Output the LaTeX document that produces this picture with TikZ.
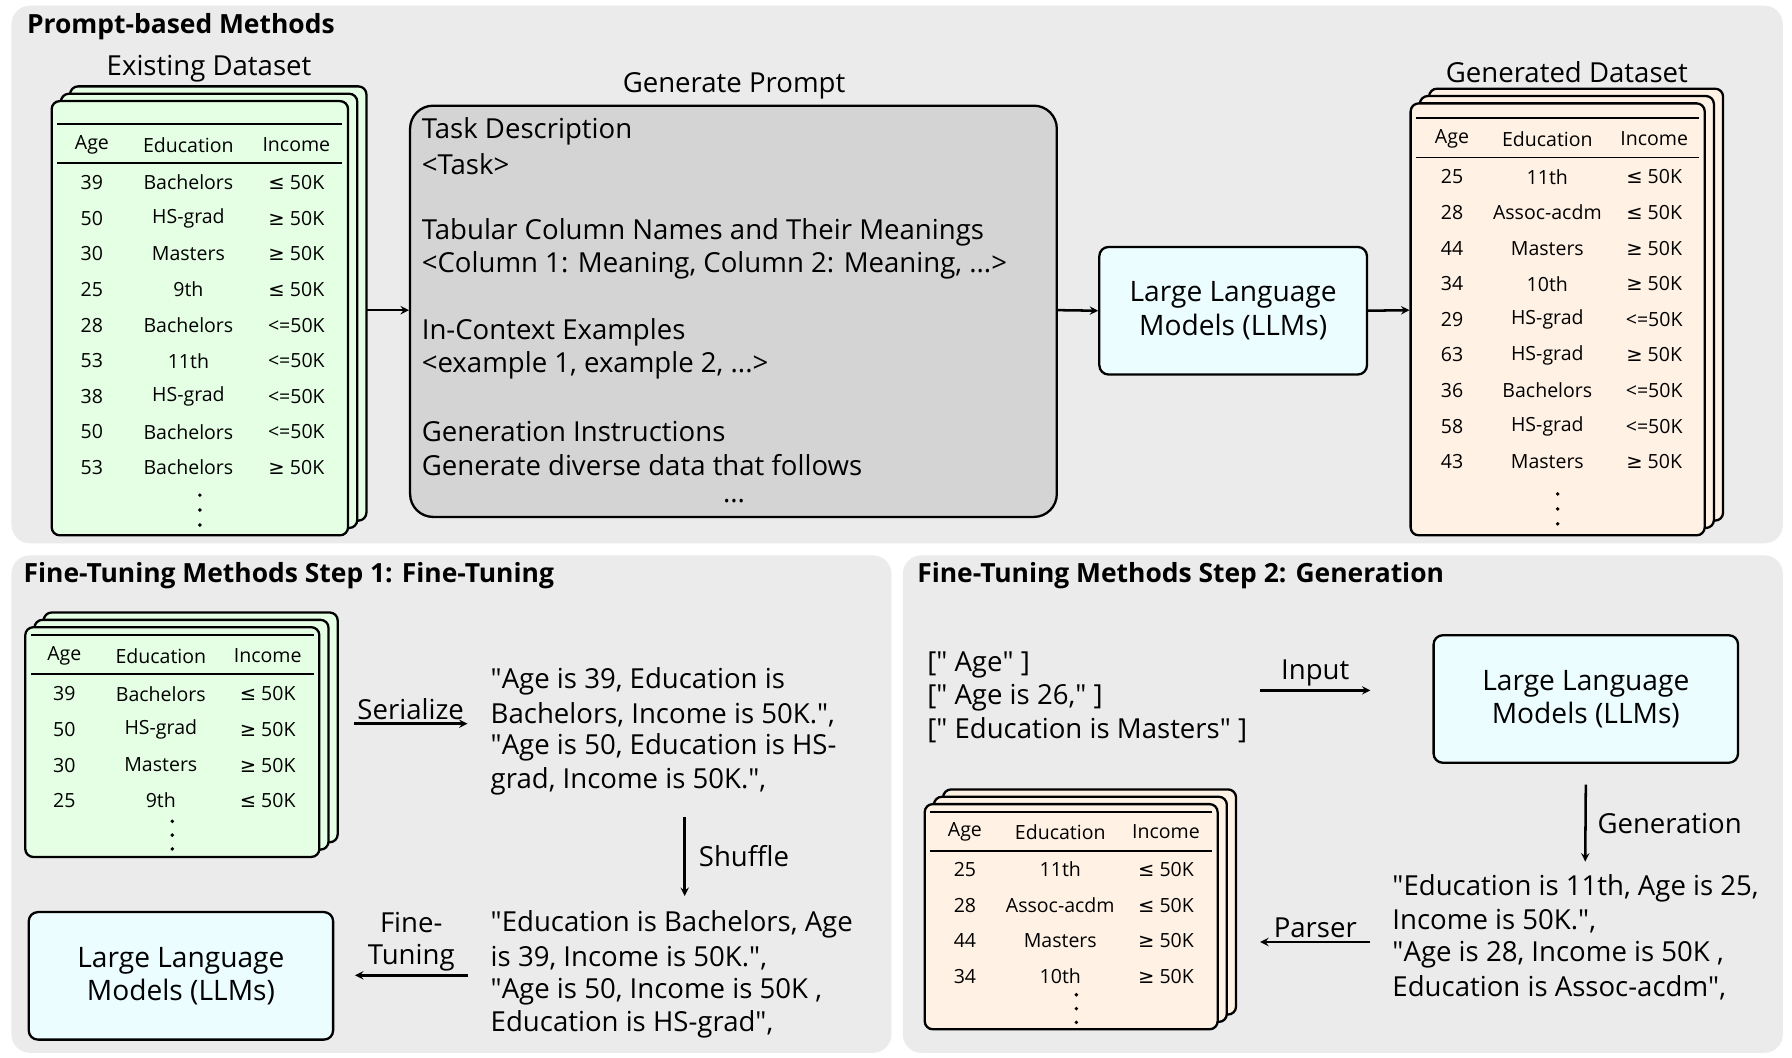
\documentclass[tikz,border=0pt]{standalone}
\usepackage{fontspec}
\setmainfont{Open Sans}
\newfontfamily\symf{DejaVu Sans}
\newfontfamily\qf{Open Sans}
\newcommand\LEs{{\symf ≤}}
\newcommand\GEs{{\symf ≥}}
\newcommand\dq{{\qf"}}
\begin{document}
\begin{tikzpicture}[x=1pt,y=-1pt,
  panel/.style={fill=black!8,draw=none,rounded corners=16pt},
  ttl/.style={anchor=west,font=\fontsize{23}{28}\selectfont\bfseries},
  tab/.style={draw=black,line width=2pt,rounded corners=7pt},
  tt/.style={font=\fontsize{17}{20}\selectfont},
  txt/.style={anchor=west,font=\fontsize{24}{28}\selectfont,inner sep=0},
  llm/.style={draw=black,line width=2pt,fill=blue!10!cyan!8,rounded corners=8pt,align=center,font=\fontsize{24.5}{29}\selectfont,inner sep=0},
  arr/.style={->,line width=2.2pt,>=stealth},
  lbl/.style={font=\fontsize{24}{28}\selectfont,align=center}]
\newcommand\stackt[6]{%
  \foreach \o in {16,8}{\draw[tab,fill=#6] (#2+\o,#3-\o*0.8) rectangle (#4+\o,#5-\o*0.8);}
  \node[tab,fill=#6,minimum width={(#4-#2)*1pt},minimum height={(#5-#3)*1pt},inner sep=0] (#1) at ({(#2+#4)/2},{(#3+#5)/2}) {};}
\useasboundingbox (0,0) rectangle (1560,921);
\fill[white] (0,0) rectangle (1560,921);
\node[panel,minimum width=1542pt,minimum height=468pt] (p1) at (781,239) {};
\node[panel,minimum width=766pt,minimum height=433pt] (p2) at (393,700) {};
\node[panel,minimum width=766pt,minimum height=433pt] (p3) at (1169,700) {};
\node[ttl] (t1) at (20,23) {Prompt-based Methods};
\node[ttl] (t2) at (17,501) {Fine-Tuning Methods Step 1: Fine-Tuning};
\node[ttl] (t3) at (795,501) {Fine-Tuning Methods Step 2: Generation};
% existing dataset
\stackt{ex}{45}{88}{303}{466}{green!10}
\node[lbl] (exl) at (182,60) {Existing Dataset};
\draw[line width=1.5pt] (50,108)--(298,108) (50,142)--(298,142);
\foreach \a/\b/\c [count=\i from -1] in {Age/Education/Income,39/Bachelors/\LEs{} 50K,50/HS-grad/\GEs{} 50K,30/Masters/\GEs{} 50K,25/9th/\LEs{} 50K,28/Bachelors/<=50K,53/11th/<=50K,38/HS-grad/<=50K,50/Bachelors/<=50K,53/Bachelors/\GEs{} 50K}{
  \node[tt] at (80,{159+31*\i-(\i<0?2:0)}) {\a};\node[tt] at (164,{159+31*\i-(\i<0?2:0)}) {\b};\node[tt] at (258,{159+31*\i-(\i<0?2:0)}) {\c};}
\foreach \y in {431,444,457}{\fill (174,\y) circle (1.7pt);}
% generated dataset
\stackt{gen}{1228}{90}{1484}{466}{orange!10}
\node[lbl] (genl) at (1364,63) {Generated Dataset};
\draw[line width=1.5pt] (1233,103)--(1479,103) (1233,137)--(1479,137);
\foreach \a/\b/\c [count=\i from -1] in {Age/Education/Income,25/11th/\LEs{} 50K,28/Assoc-acdm/\LEs{} 50K,44/Masters/\GEs{} 50K,34/10th/\GEs{} 50K,29/HS-grad/<=50K,63/HS-grad/\GEs{} 50K,36/Bachelors/<=50K,58/HS-grad/<=50K,43/Masters/\GEs{} 50K}{
  \node[tt] at (1264,{154+31*\i-(\i<0?2:0)}) {\a};\node[tt] at (1347,{154+31*\i-(\i<0?2:0)}) {\b};\node[tt] at (1440,{154+31*\i-(\i<0?2:0)}) {\c};}
\foreach \y in {430,443,456}{\fill (1356,\y) circle (1.7pt);}
% prompt
\node[draw=black,line width=2pt,fill=black!17,rounded corners=20pt,minimum width=563pt,minimum height=358pt] (pr) at (638.5,271) {};
\node[lbl] (prl) at (639,75) {Generate Prompt};
\foreach \t/\y in {Task Description/114,<Task>/143,Tabular Column Names and Their Meanings/202,{<Column 1: Meaning, Column 2: Meaning, ...>}/231,In-Context Examples/289,{<example 1, example 2, ...>}/318,Generation Instructions/376,Generate diverse data that follows/405}{\node[txt] at (367,\y) {\t};}
\node[lbl] at (639,436) {...};
\node[llm,minimum width=233pt,minimum height=111pt] (llm1) at (1073.5,270.5) {Large Language\\Models (LLMs)};
\coordinate (exr) at (319,270);
\draw[arr] (exr) -- (pr.west|-exr);
\draw[arr] (pr.east|-exr) -- (llm1.west);
\draw[arr] (llm1.east) -- (gen.west|-exr);
% step 1
\stackt{s1}{22}{546}{278}{746}{green!10}
\draw[line width=1.5pt] (27,553)--(273,553) (27,587)--(273,587);
\foreach \a/\b/\c [count=\i from -1] in {Age/Education/Income,39/Bachelors/\LEs{} 50K,50/HS-grad/\GEs{} 50K,30/Masters/\GEs{} 50K,25/9th/\LEs{} 50K}{
  \node[tt] at (56,{604+31*\i-(\i<0?2:0)}) {\a};\node[tt] at (140,{604+31*\i-(\i<0?2:0)}) {\b};\node[tt] at (233,{604+31*\i-(\i<0?2:0)}) {\c};}
\foreach \y in {715,727,739}{\fill (150,\y) circle (1.7pt);}
\coordinate (sa) at (308,630); \coordinate (sb) at (407,630);
\draw[arr] (sa) -- (sb) node[lbl,midway,above=-1pt] {Serialize};
\foreach \t/\y in {\dq Age is 39{,} Education is/593,Bachelors{,} Income is 50K.\dq{,}/622,\dq Age is 50{,} Education is HS-/651,grad{,} Income is 50K.\dq{,}/680}{\node[txt] at (427,\y) {\t};}
\coordinate (sh1) at (596,711); \coordinate (sh2) at (596,780);
\draw[arr] (sh1) -- (sh2) node[lbl,midway,right=8pt] {Shuffle};
\foreach \t/\y in {\dq Education is Bachelors{,} Age/805,is 39{,} Income is 50K.\dq{,}/834,\dq Age is 50{,} Income is 50K {,}/863,Education is HS-grad\dq{,}/892}{\node[txt] at (427,\y) {\t};}
\node[llm,minimum width=265pt,minimum height=111pt] (llm2) at (157.5,849.5) {Large Language\\Models (LLMs)};
\coordinate (fa) at (407,849);
\draw[arr] (fa) -- ([xshift=18pt]llm2.east|-fa) node[lbl,midway,above=-1pt] {Fine-\\Tuning};
% step 2
\foreach \t/\y in {[\dq{} Age\dq{} ]/579,[\dq{} Age is 26{,}\dq{} ]/607,[\dq{} Education is Masters\dq{} ]/636}{\node[txt] at (807,\y) {\t};}
\node[llm,minimum width=265pt,minimum height=111pt] (llm3) at (1380.5,608.5) {Large Language\\Models (LLMs)};
\coordinate (ia) at (1097,601); \coordinate (ib) at (1193,601);
\draw[arr] (ia) -- (ib) node[lbl,midway,above=-1pt] {Input};
\coordinate (ga) at (1380,750);
\draw[arr] (llm3.south)++(0,18) -- (ga) node[lbl,midway,right=6pt] {Generation};
\foreach \t/\y in {\dq Education is 11th{,} Age is 25{,}/773,Income is 50K.\dq{,}/802,\dq Age is 28{,} Income is 50K {,}/831,Education is Assoc-acdm\dq{,}/860}{\node[txt] at (1212,\y) {\t};}
\stackt{s2}{805}{700}{1060}{896}{orange!10}
\draw[line width=1.5pt] (810,707)--(1055,707) (810,741)--(1055,741);
\foreach \a/\b/\c [count=\i from -1] in {Age/Education/Income,25/11th/\LEs{} 50K,28/Assoc-acdm/\LEs{} 50K,44/Masters/\GEs{} 50K,34/10th/\GEs{} 50K}{
  \node[tt] at (840,{757+31*\i-(\i<0?2:0)}) {\a};\node[tt] at (923,{757+31*\i-(\i<0?2:0)}) {\b};\node[tt] at (1015,{757+31*\i-(\i<0?2:0)}) {\c};}
\foreach \y in {866,878,890}{\fill (937,\y) circle (1.7pt);}
\coordinate (pa) at (1193,820); \coordinate (pb) at (1097,820);
\draw[arr] (pa) -- (pb) node[lbl,midway,above=-1pt] {Parser};
\end{tikzpicture}
\end{document}
